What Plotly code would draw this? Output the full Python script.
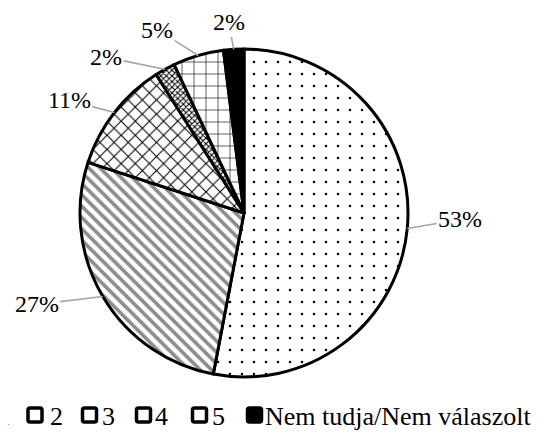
import math
import plotly.graph_objects as go

# ---- data ----
categories = ["1", "2", "3", "4", "5", "Nem tudja/Nem válaszolt"]
values = [53, 27, 11, 2, 5, 2]
value_labels = ["53%", "27%", "11%", "2%", "5%", "2%"]

# ---- layout / style constants ----
W, H = 539, 432
CX, CY, R = 236, 205, 164            # pie centre / radius in figure px
FONT = "Liberation Serif"
shapes = [".", "\\", "x", "x", "+", ""]
fgcolors = ["black", "#8c8c8c", "black", "black", "black", "black"]
bgcolors = ["white", "white", "white", "white", "white", "black"]
psizes = [12, 8, 10, 4, 12, 8]
solids = [0.035, 0.45, 0.2, 0.45, 0.1, 1.0]
leg_psizes = [5, 4, 5, 3, 6, 8]
# label offsets (px) from the slice edge midpoint
offsets = [(53, -9), (-66, 8), (-45, -12), (-59, -12), (-41, -26), (-5, -27)]
# legend layout (figure px): swatch centres and text starts
leg_swatch_x = [-25, 27, 81.5, 135.5, 191.5, 246.5]
leg_text_x = [-13, 40, 92, 145, 202, 255]
LEG_Y = 24                            # legend row centre, px above the bottom
SW = 14                               # swatch size, px

pie_pattern = dict(shape=shapes, fgcolor=fgcolors, bgcolor=bgcolors,
                   size=psizes, solidity=solids, fillmode="replace")
leg_pattern = dict(shape=shapes, fgcolor=fgcolors, bgcolor=bgcolors,
                   size=leg_psizes, solidity=solids, fillmode="replace")

fig = go.Figure()
fig.add_trace(go.Pie(
    labels=categories,
    values=values,
    sort=False,
    direction="clockwise",
    rotation=0,
    textinfo="none",
    hoverinfo="label+percent",
    showlegend=False,
    marker=dict(colors=bgcolors, line=dict(color="black", width=3),
                pattern=pie_pattern),
    domain=dict(x=[(CX - R) / W, (CX + R) / W],
                y=[(H - CY - R) / H, (H - CY + R) / H]),
))

# legend swatches (one per category) drawn as small patterned squares
fig.add_trace(go.Bar(
    x=leg_swatch_x, y=[SW] * len(categories), base=LEG_Y - SW / 2 + 1,
    width=SW, hoverinfo="skip", showlegend=False,
    marker=dict(color=bgcolors, line=dict(color="black", width=3.5),
                cornerradius=2, pattern=leg_pattern),
))

# label annotations positioned from the slice mid-angles
total = sum(values)
cum = 0
annotations = []
for v, lab, (dx, dy) in zip(values, value_labels, offsets):
    mid = (cum + v / 2) / total * 2 * math.pi
    cum += v
    px = CX + R * math.sin(mid)
    py = CY - R * math.cos(mid)
    annotations.append(dict(
        x=px / W, y=(H - py) / H, xref="paper", yref="paper",
        text=lab, showarrow=True, ax=dx, ay=dy,
        arrowhead=0, arrowwidth=1.6, arrowcolor="#a6a6a6", standoff=0,
        font=dict(family=FONT, size=24, color="black"),
    ))

# legend texts
for cat, tx in zip(categories, leg_text_x):
    annotations.append(dict(
        x=tx / W, y=LEG_Y / H, xref="paper", yref="paper",
        xanchor="left", yanchor="middle", showarrow=False,
        text=cat, font=dict(family=FONT, size=26, color="black"),
    ))

fig.update_layout(
    width=W, height=H,
    margin=dict(l=0, r=0, t=0, b=0, autoexpand=False),
    paper_bgcolor="white",
    plot_bgcolor="rgba(0,0,0,0)",
    showlegend=False,
    xaxis=dict(range=[0, W], visible=False, fixedrange=True),
    yaxis=dict(range=[0, H], visible=False, fixedrange=True),
    annotations=annotations,
)

fig.write_html("out.html")
